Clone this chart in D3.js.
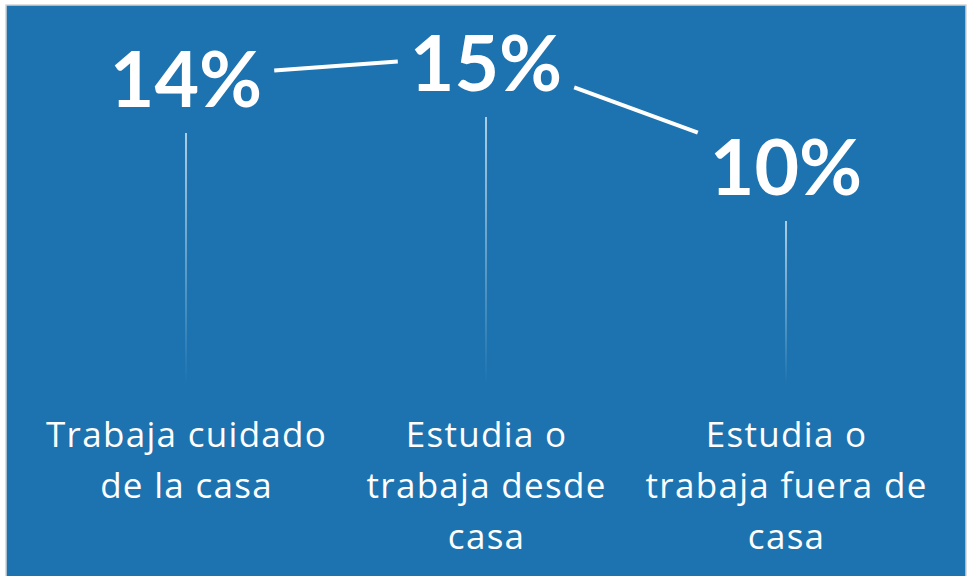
<!DOCTYPE html>
<html>
<head>
<meta charset="utf-8">
<script src="https://cdn.jsdelivr.net/npm/d3@7"></script>
<style>
  html, body { margin: 0; padding: 0; background: #ffffff; }
  svg { display: block; }
</style>
</head>
<body>
<div id="chart"></div>
<script>
const width = 973,
  height = 576;

// data
const categories = [
  ["Trabaja cuidado", "de la casa"],
  ["Estudia o", "trabaja desde", "casa"],
  ["Estudia o", "trabaja fuera de", "casa"],
];
const values = [14, 15, 10];
const valueLabels = ["14%", "15%", "10%"];

const bg = "#1c73b0";

const svg = d3
  .select("#chart")
  .append("svg")
  .attr("width", width)
  .attr("height", height);

// panel
svg
  .append("rect")
  .attr("x", 6)
  .attr("y", 5)
  .attr("width", 960)
  .attr("height", 590)
  .attr("fill", bg)
  .attr("stroke", "#d4d4d4")
  .attr("stroke-width", 1.5);

const ids = d3.range(categories.length);

const x = d3.scalePoint().domain(ids).range([36, 936]).padding(0.5);
const y = d3.scaleLinear().domain([0, 16]).range([385, 33]);

// gradient for drop lines
const defs = svg.append("defs");
const grad = defs
  .append("linearGradient")
  .attr("id", "fade")
  .attr("x1", 0)
  .attr("y1", 0)
  .attr("x2", 0)
  .attr("y2", 1);
grad.append("stop").attr("offset", "0%").attr("stop-color", "#fff").attr("stop-opacity", 0.85);
grad.append("stop").attr("offset", "100%").attr("stop-color", "#fff").attr("stop-opacity", 0);

const valueSize = 77;
const labelCenter = (i) => Math.max(y(values[i]) + 2, y.range()[1] + 30);

// value labels
const vLabels = svg
  .append("g")
  .selectAll("text")
  .data(ids)
  .enter()
  .append("text")
  .attr("x", (i) => x(i))
  .attr("y", (i) => labelCenter(i) + valueSize * 0.36)
  .attr("text-anchor", "middle")
  .attr("font-family", "Lato, 'Open Sans', sans-serif")
  .attr("font-weight", "bold")
  .attr("font-size", valueSize)
  .attr("fill", "#fff")
  .text((i) => valueLabels[i]);

const halfW = [];
vLabels.each(function (i) {
  halfW[i] = this.getComputedTextLength() / 2;
});

// connecting line segments, trimmed around the labels
const gap = 12;
const segs = d3.pairs(ids).map(([a, b]) => {
  const x0 = x(a), y0 = y(values[a]);
  const x1 = x(b), y1 = y(values[b]);
  const t = d3.scaleLinear().domain([x0, x1]).range([y0, y1]);
  const sx = x0 + halfW[a] + gap;
  const ex = x1 - halfW[b] - gap;
  return [[sx, t(sx)], [ex, t(ex)]];
});

svg
  .append("g")
  .selectAll("line")
  .data(segs)
  .enter()
  .append("line")
  .attr("x1", (d) => d[0][0])
  .attr("y1", (d) => d[0][1])
  .attr("x2", (d) => d[1][0])
  .attr("y2", (d) => d[1][1])
  .attr("stroke", "#fff")
  .attr("stroke-width", 4);

// drop lines
svg
  .append("g")
  .selectAll("rect")
  .data(ids)
  .enter()
  .append("rect")
  .attr("x", (i) => x(i) - 0.75)
  .attr("y", (i) => labelCenter(i) + 54)
  .attr("width", 1.5)
  .attr("height", (i) => y(0) - labelCenter(i) - 54)
  .attr("fill", "url(#fade)");

// category labels
const catSize = 35;
const cats = svg
  .append("g")
  .selectAll("text")
  .data(ids)
  .enter()
  .append("text")
  .attr("x", (i) => x(i))
  .attr("y", 447)
  .attr("text-anchor", "middle")
  .attr("font-family", "'Open Sans', sans-serif")
  .attr("font-size", catSize)
  .attr("letter-spacing", 1.3)
  .attr("fill", "#fff");

cats
  .selectAll("tspan")
  .data((i) => categories[i].map((t) => ({ t, i })))
  .enter()
  .append("tspan")
  .attr("x", (d) => x(d.i) + 0.6)
  .attr("dy", (d, k) => (k === 0 ? 0 : 51))
  .text((d) => d.t);
</script>
</body>
</html>
